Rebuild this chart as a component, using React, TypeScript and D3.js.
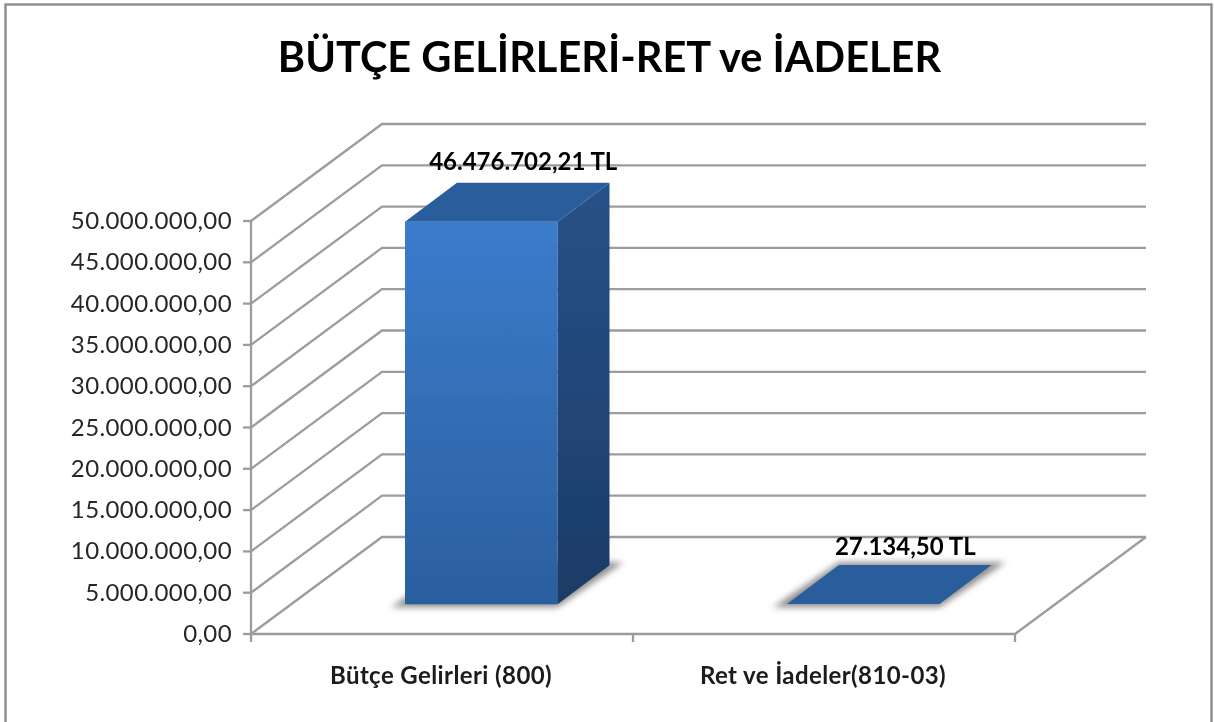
import React from "react";
import * as d3 from "d3";

const titleText = "BÜTÇE GELİRLERİ-RET ve İADELER";
const categories = ["Bütçe Gelirleri (800)", "Ret ve İadeler(810-03)"];
const values = [46476702.21, 27134.5];
const valueLabels = ["46.476.702,21 TL", "27.134,50 TL"];
const tickValues = [0, 5e6, 10e6, 15e6, 20e6, 25e6, 30e6, 35e6, 40e6, 45e6, 50e6];
const tickLabels = ["0,00", "5.000.000,00", "10.000.000,00", "15.000.000,00", "20.000.000,00", "25.000.000,00", "30.000.000,00", "35.000.000,00", "40.000.000,00", "45.000.000,00", "50.000.000,00"];

const W = 1214, H = 722;
const FONT = "Lato, 'Open Sans', sans-serif";
const x0 = 251, x1 = 1015;
const y = d3.scaleLinear().domain([0, 50e6]).range([634, 221]);
const band = d3.scaleBand<string>().domain(categories).range([x0, x1]);
const wallDx = 131, wallDy = -97;
const grid = "#9c9c9c";

// bar box inside the floor depth
const barW = 152.5, barDx = 52, barDy = -39, barBase = 604.3;
const barScale = 382.6 / values[0];
const poly = (p: number[][]) => p.map(q => q.join(",")).join(" ");

export default function App() {
  return (
    <svg width={W} height={H} style={{ position: "absolute", left: 0, top: 0, background: "#fff" }}>
      <defs>
        <linearGradient id="front" x1="0" y1="0" x2="0" y2="1">
          <stop offset="0" stopColor="#3b7ccc" />
          <stop offset="1" stopColor="#2b5f9f" />
        </linearGradient>
        <linearGradient id="side" x1="0" y1="0" x2="0" y2="1">
          <stop offset="0" stopColor="#275289" />
          <stop offset="1" stopColor="#1c3b66" />
        </linearGradient>
        <filter id="shadow" x="-30%" y="-30%" width="160%" height="160%">
          <feGaussianBlur stdDeviation="3" />
        </filter>
        <filter id="soft" x="-5%" y="-5%" width="110%" height="110%">
          <feGaussianBlur stdDeviation="0.5" />
        </filter>
      </defs>
      <g filter="url(#soft)">
        <rect x={5.5} y={4.5} width={1206} height={730} fill="#fff" stroke="#8c8c8c" strokeWidth={2.4} />
        <text x={609.5} y={72} textAnchor="middle" fontFamily={FONT} fontWeight={700} fontSize={41.5} fill="#000">{titleText}</text>

        {tickValues.map((t) => (
          <polyline key={t} fill="none" stroke={grid} strokeWidth={2.3}
            points={poly([[x0, y(t)], [x0 + wallDx, y(t) + wallDy], [x1 + wallDx, y(t) + wallDy]])} />
        ))}
        <polyline fill="none" stroke={grid} strokeWidth={2.3}
          points={poly([[x1 + wallDx, y(0) + wallDy], [x1, y(0)], [x0, y(0)], [x0, y(50e6)]])} />
        {tickValues.map((t) => (
          <line key={t} x1={x0 - 8} x2={x0} y1={y(t)} y2={y(t)} stroke={grid} strokeWidth={2.3} />
        ))}
        {[x0, x0 + band.step(), x1].map((x) => (
          <line key={x} x1={x} x2={x} y1={y(0)} y2={y(0) + 8} stroke={grid} strokeWidth={2.3} />
        ))}
        {tickValues.map((t, i) => (
          <text key={t} x={232} y={y(t) + 8} textAnchor="end" fontFamily={FONT} fontSize={24} letterSpacing={0.4} fill="#262626">{tickLabels[i]}</text>
        ))}

        {categories.map((c, i) => {
          const xl = (band(c) as number) + 154;
          const xr = xl + barW;
          const h = values[i] * barScale;
          const top = barBase - h;
          const cx = (band(c) as number) + band.bandwidth() / 2;
          return (
            <g key={c}>
              <polygon filter="url(#shadow)" fill="#8f8f8f"
                points={poly([[xl - 14, barBase + 3], [xr, barBase + 3], [xr + barDx + 14, barBase + barDy - 3], [xl + barDx, barBase + barDy - 3]])} />
              {h > 1 && <rect x={xl} y={top} width={barW} height={h} fill="url(#front)" />}
              {h > 1 && <polygon fill="url(#side)" points={poly([[xr, top], [xr + barDx, top + barDy], [xr + barDx, barBase + barDy], [xr, barBase]])} />}
              <polygon fill="#2b5d9b" points={poly([[xl, top], [xr, top], [xr + barDx, top + barDy], [xl + barDx, top + barDy]])} />
              <text x={xl + barW / 2 + 42} y={top + barDy - (i === 0 ? 13 : 10)} textAnchor="middle" fontFamily={FONT} fontWeight={700} fontSize={24} letterSpacing={0} fill="#000">{valueLabels[i]}</text>
              <text x={cx - 1} y={684} textAnchor="middle" fontFamily={FONT} fontWeight={700} fontSize={24} letterSpacing={0.4} fill="#1a1a1a">{c}</text>
            </g>
          );
        })}
      </g>
    </svg>
  );
}
